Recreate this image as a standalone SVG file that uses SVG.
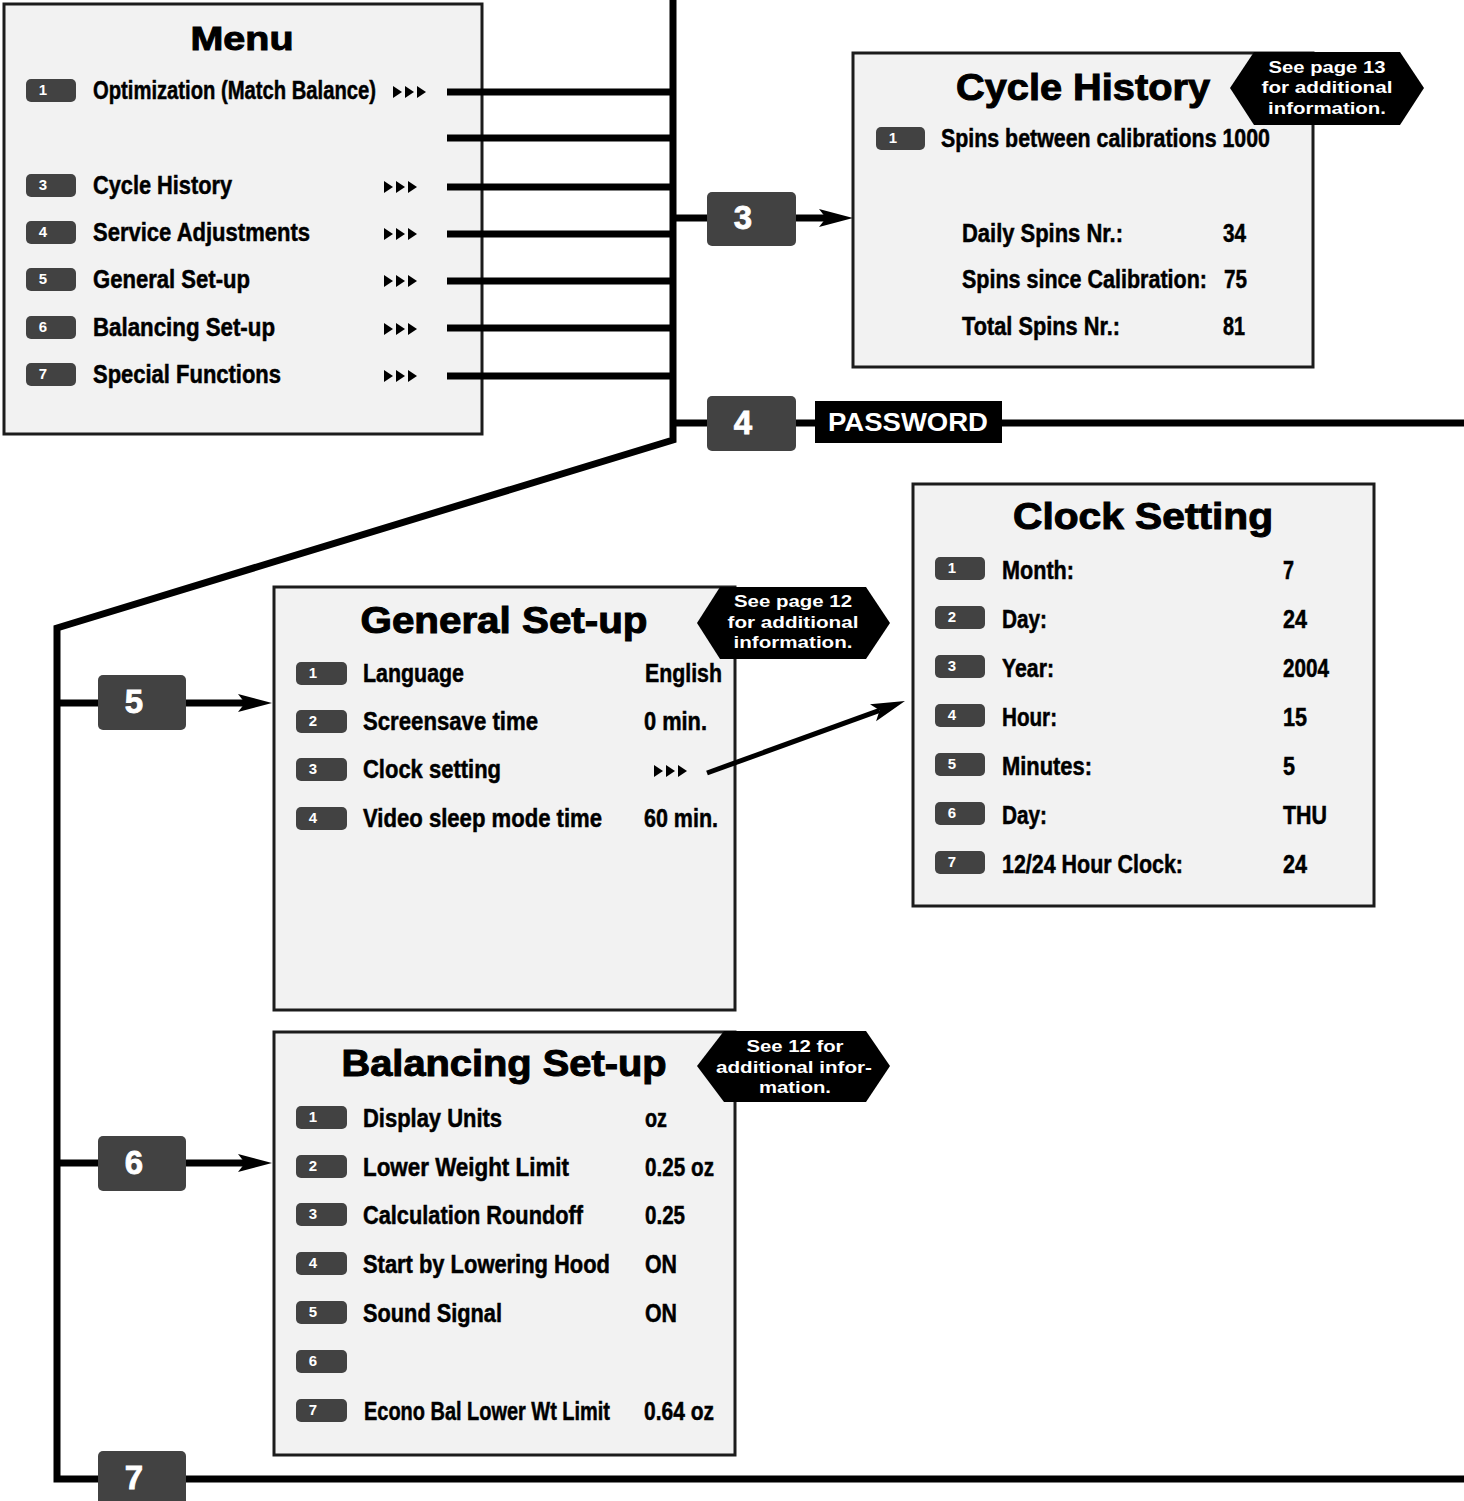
<svg xmlns="http://www.w3.org/2000/svg" width="1464" height="1501" viewBox="0 0 1464 1501">
<style>
text{font-family:'Liberation Sans',Arial,Helvetica,sans-serif;font-weight:bold}
.box{fill:#f2f2f2;stroke:#1c1c1c;stroke-width:3}
.pill{fill:#424242}
.pn{font-size:15px;fill:#fff;text-anchor:middle}
.it{font-size:25px;fill:#000;stroke:#000;stroke-width:0.5}
.ttl{font-size:36px;fill:#000;stroke:#000;stroke-width:1;text-anchor:middle}
.nb{fill:#424242}
.nbt{font-size:33px;fill:#fff;stroke:#fff;stroke-width:0.8;text-anchor:middle}
.badge{fill:#000}
.bt{font-size:17px;fill:#fff;text-anchor:middle}
.ln{stroke:#000;stroke-width:7;fill:none}
.tri{fill:#000}
</style>
<defs>
<marker id="ah" markerUnits="userSpaceOnUse" markerWidth="34" markerHeight="20" viewBox="0 0 34 20" refX="7" refY="10" orient="auto">
<path d="M0,1 L34,10 L0,19 L7,10 z" fill="#000"/>
</marker>
<symbol id="tri3" viewBox="0 0 33 12" width="33" height="12" overflow="visible">
<polygon class="tri" points="0,0 9,6 0,12"/>
<polygon class="tri" points="12,0 21,6 12,12"/>
<polygon class="tri" points="24,0 33,6 24,12"/>
</symbol>
</defs>

<g id="menu">
<rect class="box" x="4" y="4" width="478" height="430"/>
<text class="ttl" x="242" y="50" style="font-size:34px" textLength="103" lengthAdjust="spacingAndGlyphs">Menu</text>
<rect class="pill" x="26" y="79" width="50" height="23" rx="5"/><text class="pn" x="43" y="95">1</text>
<text class="it" x="93" y="99" textLength="283" lengthAdjust="spacingAndGlyphs">Optimization (Match Balance)</text>
<use href="#tri3" x="393" y="86"/>
<rect class="pill" x="26" y="174" width="50" height="23" rx="5"/><text class="pn" x="43" y="190">3</text>
<text class="it" x="93" y="194" textLength="139" lengthAdjust="spacingAndGlyphs">Cycle History</text>
<use href="#tri3" x="384" y="181"/>
<rect class="pill" x="26" y="221" width="50" height="23" rx="5"/><text class="pn" x="43" y="237">4</text>
<text class="it" x="93" y="241" textLength="217" lengthAdjust="spacingAndGlyphs">Service Adjustments</text>
<use href="#tri3" x="384" y="228"/>
<rect class="pill" x="26" y="268" width="50" height="23" rx="5"/><text class="pn" x="43" y="284">5</text>
<text class="it" x="93" y="288" textLength="157" lengthAdjust="spacingAndGlyphs">General Set-up</text>
<use href="#tri3" x="384" y="275"/>
<rect class="pill" x="26" y="316" width="50" height="23" rx="5"/><text class="pn" x="43" y="332">6</text>
<text class="it" x="93" y="336" textLength="182" lengthAdjust="spacingAndGlyphs">Balancing Set-up</text>
<use href="#tri3" x="384" y="323"/>
<rect class="pill" x="26" y="363" width="50" height="23" rx="5"/><text class="pn" x="43" y="379">7</text>
<text class="it" x="93" y="383" textLength="188" lengthAdjust="spacingAndGlyphs">Special Functions</text>
<use href="#tri3" x="384" y="370"/>
</g>

<g id="cycle-history">
<rect class="box" x="853" y="53" width="460" height="314"/>
<text class="ttl" x="1083" y="100" textLength="254" lengthAdjust="spacingAndGlyphs">Cycle History</text>
<rect class="pill" x="876" y="127" width="49" height="23" rx="5"/><text class="pn" x="893" y="143">1</text>
<text class="it" x="941" y="147" textLength="329" lengthAdjust="spacingAndGlyphs">Spins between calibrations 1000</text>
<text class="it" x="962" y="242" textLength="161" lengthAdjust="spacingAndGlyphs">Daily Spins Nr.:</text>
<text class="it" x="1223" y="242" textLength="23" lengthAdjust="spacingAndGlyphs">34</text>
<text class="it" x="962" y="288" textLength="245" lengthAdjust="spacingAndGlyphs">Spins since Calibration:</text>
<text class="it" x="1224" y="288" textLength="23" lengthAdjust="spacingAndGlyphs">75</text>
<text class="it" x="962" y="335" textLength="158" lengthAdjust="spacingAndGlyphs">Total Spins Nr.:</text>
<text class="it" x="1223" y="335" textLength="22" lengthAdjust="spacingAndGlyphs">81</text>
<polygon class="badge" points="1230,88 1254,52 1400,52 1424,88 1400,125 1254,125"/>
<text class="bt" x="1327" y="73" textLength="117" lengthAdjust="spacingAndGlyphs">See page 13</text>
<text class="bt" x="1327" y="93" textLength="131" lengthAdjust="spacingAndGlyphs">for additional</text>
<text class="bt" x="1327" y="114" textLength="118" lengthAdjust="spacingAndGlyphs">information.</text>
</g>

<g id="clock-setting">
<rect class="box" x="913" y="484" width="461" height="422"/>
<text class="ttl" x="1143" y="529" textLength="260" lengthAdjust="spacingAndGlyphs">Clock Setting</text>
<rect class="pill" x="935" y="557" width="50" height="23" rx="5"/><text class="pn" x="952" y="573">1</text>
<text class="it" x="1002" y="579" textLength="72" lengthAdjust="spacingAndGlyphs">Month:</text>
<text class="it" x="1283" y="579" textLength="11" lengthAdjust="spacingAndGlyphs">7</text>
<rect class="pill" x="935" y="606" width="50" height="23" rx="5"/><text class="pn" x="952" y="622">2</text>
<text class="it" x="1002" y="628" textLength="45" lengthAdjust="spacingAndGlyphs">Day:</text>
<text class="it" x="1283" y="628" textLength="24" lengthAdjust="spacingAndGlyphs">24</text>
<rect class="pill" x="935" y="655" width="50" height="23" rx="5"/><text class="pn" x="952" y="671">3</text>
<text class="it" x="1002" y="677" textLength="52" lengthAdjust="spacingAndGlyphs">Year:</text>
<text class="it" x="1283" y="677" textLength="46" lengthAdjust="spacingAndGlyphs">2004</text>
<rect class="pill" x="935" y="704" width="50" height="23" rx="5"/><text class="pn" x="952" y="720">4</text>
<text class="it" x="1002" y="726" textLength="55" lengthAdjust="spacingAndGlyphs">Hour:</text>
<text class="it" x="1283" y="726" textLength="24" lengthAdjust="spacingAndGlyphs">15</text>
<rect class="pill" x="935" y="753" width="50" height="23" rx="5"/><text class="pn" x="952" y="769">5</text>
<text class="it" x="1002" y="775" textLength="90" lengthAdjust="spacingAndGlyphs">Minutes:</text>
<text class="it" x="1283" y="775" textLength="12" lengthAdjust="spacingAndGlyphs">5</text>
<rect class="pill" x="935" y="802" width="50" height="23" rx="5"/><text class="pn" x="952" y="818">6</text>
<text class="it" x="1002" y="824" textLength="45" lengthAdjust="spacingAndGlyphs">Day:</text>
<text class="it" x="1283" y="824" textLength="44" lengthAdjust="spacingAndGlyphs">THU</text>
<rect class="pill" x="935" y="851" width="50" height="23" rx="5"/><text class="pn" x="952" y="867">7</text>
<text class="it" x="1002" y="873" textLength="181" lengthAdjust="spacingAndGlyphs">12/24 Hour Clock:</text>
<text class="it" x="1283" y="873" textLength="24" lengthAdjust="spacingAndGlyphs">24</text>
</g>

<g id="general-setup">
<rect class="box" x="274" y="587" width="461" height="423"/>
<text class="ttl" x="504" y="633" textLength="287" lengthAdjust="spacingAndGlyphs">General Set-up</text>
<rect class="pill" x="296" y="662" width="51" height="23" rx="5"/><text class="pn" x="313" y="678">1</text>
<text class="it" x="363" y="682" textLength="101" lengthAdjust="spacingAndGlyphs">Language</text>
<text class="it" x="645" y="682" textLength="77" lengthAdjust="spacingAndGlyphs">English</text>
<rect class="pill" x="296" y="710" width="51" height="23" rx="5"/><text class="pn" x="313" y="726">2</text>
<text class="it" x="363" y="730" textLength="175" lengthAdjust="spacingAndGlyphs">Screensave time</text>
<text class="it" x="644" y="730" textLength="63" lengthAdjust="spacingAndGlyphs">0 min.</text>
<rect class="pill" x="296" y="758" width="51" height="23" rx="5"/><text class="pn" x="313" y="774">3</text>
<text class="it" x="363" y="778" textLength="138" lengthAdjust="spacingAndGlyphs">Clock setting</text>
<use href="#tri3" x="654" y="765"/>
<rect class="pill" x="296" y="807" width="51" height="23" rx="5"/><text class="pn" x="313" y="823">4</text>
<text class="it" x="363" y="827" textLength="239" lengthAdjust="spacingAndGlyphs">Video sleep mode time</text>
<text class="it" x="644" y="827" textLength="74" lengthAdjust="spacingAndGlyphs">60 min.</text>
<polygon class="badge" points="697,623 720,587 866,587 890,623 866,659 720,659"/>
<text class="bt" x="793" y="607" textLength="118" lengthAdjust="spacingAndGlyphs">See page 12</text>
<text class="bt" x="793" y="628" textLength="131" lengthAdjust="spacingAndGlyphs">for additional</text>
<text class="bt" x="793" y="648" textLength="119" lengthAdjust="spacingAndGlyphs">information.</text>
</g>

<g id="balancing-setup">
<rect class="box" x="274" y="1032" width="461" height="423"/>
<text class="ttl" x="504" y="1076" textLength="325" lengthAdjust="spacingAndGlyphs">Balancing Set-up</text>
<rect class="pill" x="296" y="1106" width="51" height="23" rx="5"/><text class="pn" x="313" y="1122">1</text>
<text class="it" x="363" y="1127" textLength="139" lengthAdjust="spacingAndGlyphs">Display Units</text>
<text class="it" x="645" y="1127" textLength="22" lengthAdjust="spacingAndGlyphs">oz</text>
<rect class="pill" x="296" y="1155" width="51" height="23" rx="5"/><text class="pn" x="313" y="1171">2</text>
<text class="it" x="363" y="1176" textLength="206" lengthAdjust="spacingAndGlyphs">Lower Weight Limit</text>
<text class="it" x="645" y="1176" textLength="69" lengthAdjust="spacingAndGlyphs">0.25 oz</text>
<rect class="pill" x="296" y="1203" width="51" height="23" rx="5"/><text class="pn" x="313" y="1219">3</text>
<text class="it" x="363" y="1224" textLength="220" lengthAdjust="spacingAndGlyphs">Calculation Roundoff</text>
<text class="it" x="645" y="1224" textLength="40" lengthAdjust="spacingAndGlyphs">0.25</text>
<rect class="pill" x="296" y="1252" width="51" height="23" rx="5"/><text class="pn" x="313" y="1268">4</text>
<text class="it" x="363" y="1273" textLength="247" lengthAdjust="spacingAndGlyphs">Start by Lowering Hood</text>
<text class="it" x="645" y="1273" textLength="32" lengthAdjust="spacingAndGlyphs">ON</text>
<rect class="pill" x="296" y="1301" width="51" height="23" rx="5"/><text class="pn" x="313" y="1317">5</text>
<text class="it" x="363" y="1322" textLength="139" lengthAdjust="spacingAndGlyphs">Sound Signal</text>
<text class="it" x="645" y="1322" textLength="32" lengthAdjust="spacingAndGlyphs">ON</text>
<rect class="pill" x="296" y="1350" width="51" height="23" rx="5"/><text class="pn" x="313" y="1366">6</text>
<rect class="pill" x="296" y="1399" width="51" height="23" rx="5"/><text class="pn" x="313" y="1415">7</text>
<text class="it" x="364" y="1420" textLength="246" lengthAdjust="spacingAndGlyphs">Econo Bal Lower Wt Limit</text>
<text class="it" x="644" y="1420" textLength="70" lengthAdjust="spacingAndGlyphs">0.64 oz</text>
<polygon class="badge" points="697,1066 724,1031 866,1031 890,1066 866,1102 724,1102"/>
<text class="bt" x="795" y="1052" textLength="97" lengthAdjust="spacingAndGlyphs">See 12 for</text>
<text class="bt" x="794" y="1073" textLength="156" lengthAdjust="spacingAndGlyphs">additional infor-</text>
<text class="bt" x="795" y="1093" textLength="72" lengthAdjust="spacingAndGlyphs">mation.</text>
</g>

<g id="connectors">
<path class="ln" d="M673,0 V440 L57,628 V1479 H1464" stroke-linejoin="miter"/>
<path class="ln" d="M447,92 H673 M447,138 H673 M447,187 H673 M447,234 H673 M447,281 H673 M447,328 H673 M447,376 H673"/>
<path class="ln" d="M673,218 H707 M673,423 H707 M796,423 H815 M1002,423 H1464 M57,703 H98 M57,1163 H98"/>
<path class="ln" d="M796,218 H826" marker-end="url(#ah)"/>
<path class="ln" d="M186,703 H245" marker-end="url(#ah)"/>
<path class="ln" d="M186,1163 H245" marker-end="url(#ah)"/>
<path class="ln" style="stroke-width:5" d="M707,773 L879.6,710.3" marker-end="url(#ah)"/>
</g>

<g id="n3">
<rect class="nb" x="707" y="192" width="89" height="54" rx="5"/>
<text class="nbt" x="743" y="229">3</text>
</g>

<g id="n4">
<rect class="nb" x="707" y="396" width="89" height="55" rx="5"/>
<text class="nbt" x="743" y="434">4</text>
</g>

<g id="password">
<rect x="815" y="401" width="187" height="42" fill="#000"/>
<text x="908" y="431" font-size="26" fill="#fff" text-anchor="middle" textLength="160" lengthAdjust="spacingAndGlyphs">PASSWORD</text>
</g>

<g id="n5">
<rect class="nb" x="98" y="675" width="88" height="55" rx="5"/>
<text class="nbt" x="134" y="713">5</text>
</g>

<g id="n6">
<rect class="nb" x="98" y="1136" width="88" height="55" rx="5"/>
<text class="nbt" x="134" y="1174">6</text>
</g>

<g id="n7">
<rect class="nb" x="98" y="1451" width="88" height="60" rx="5"/>
<text class="nbt" x="134" y="1489">7</text>
</g>
</svg>
